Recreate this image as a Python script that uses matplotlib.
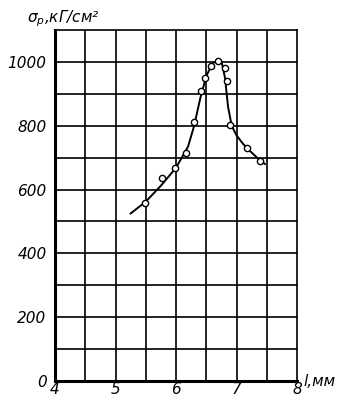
"""Зависимость предела прочности от длины волокна"""
import matplotlib
matplotlib.use('Agg')
import matplotlib.pyplot as plt

# экспериментальные точки
l_points = [5.49, 5.77, 5.99, 6.17, 6.29, 6.41, 6.48, 6.58, 6.70, 6.81, 6.84, 6.90, 7.18, 7.39]
sigma_points = [559, 635, 667, 714, 813, 910, 950, 987, 1004, 980, 941, 803, 731, 691]

# сглаженная кривая
l_curve = [5.25, 5.5, 5.75, 6.0, 6.2, 6.3, 6.4, 6.5, 6.6, 6.7, 6.76, 6.81, 6.86, 6.92,
           7.0, 7.1, 7.2, 7.35, 7.47]
sigma_curve = [525, 562, 612, 668, 735, 800, 885, 955, 995, 1005, 995, 950, 860, 800,
               770, 745, 725, 698, 680]

x_ticks = [4, 5, 6, 7, 8]
y_ticks = [0, 200, 400, 600, 800, 1000]

plt.rcParams['font.family'] = ['DejaVu Sans']
plt.rcParams['font.style'] = 'italic'

fig = plt.figure(figsize=(3.63, 4.04), dpi=100)
ax = fig.add_axes([55 / 363, 23 / 404, 242 / 363, 351 / 404])

ax.set_xlim(4, 8)
ax.set_ylim(0, 1100)

# сетка
for x in [4.5, 5, 5.5, 6, 6.5, 7, 7.5]:
    ax.axvline(x, color='black', lw=1.2, zorder=1)
for y in range(100, 1100, 100):
    ax.axhline(y, color='black', lw=1.2, zorder=1)

ax.plot(l_curve, sigma_curve, color='black', lw=1.4, zorder=2)
ax.plot(l_points, sigma_points, 'o', ms=4.5, mfc='white', mec='black', mew=1.0, zorder=3)

ax.spines['left'].set_linewidth(2.2)
ax.spines['bottom'].set_linewidth(2.2)
ax.spines['top'].set_linewidth(1.2)
ax.spines['right'].set_linewidth(1.2)

ax.set_xticks(x_ticks)
ax.set_yticks(y_ticks)
ax.set_xticklabels([str(v) for v in x_ticks], fontsize=11)
ax.set_yticklabels([str(v) for v in y_ticks], fontsize=11)
ax.tick_params(axis='x', length=0, pad=1)
ax.tick_params(axis='y', length=0, pad=6)

fig.text(27 / 363, 1 - 19 / 404, 'σ$_p$,кГ/см²', fontsize=11, va='center', ha='left')
fig.text(303 / 363, 1 - 381 / 404, 'l,мм', fontsize=11, va='center', ha='left')

plt.savefig('out.png', dpi=100)
